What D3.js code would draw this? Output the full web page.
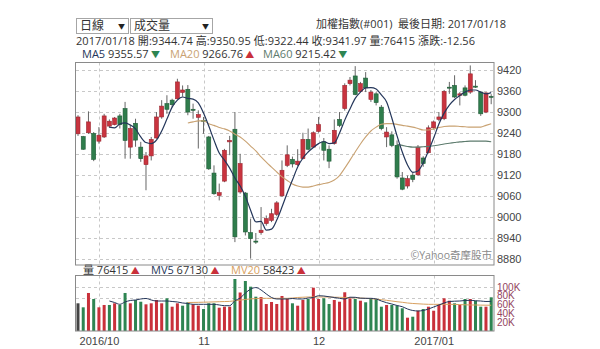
<!DOCTYPE html>
<html>
<head>
<meta charset="utf-8">
<style>
body {
    margin: 0;
    background: #fff;
    font-family: "Open Sans", "Noto Sans CJK TC", sans-serif;
}
svg text {
    font-size: 11px;
    fill: #333;
}
.grid line {
    stroke: #c8c8c8;
    stroke-dasharray: 3,3;
}
.frame {
    fill: none;
    stroke: #8a8a8a;
}
.axis text {
    font-size: 11px;
    fill: #444;
}
</style>
</head>
<body>
<script src="https://d3js.org/d3.v7.min.js"></script>
<script>

// trading days shown (2016/09/23 .. 2017/01/18)
const dates = [
    '2016/09/23','2016/09/26','2016/09/29','2016/09/30',
    '2016/10/03','2016/10/04','2016/10/05','2016/10/06','2016/10/07',
    '2016/10/11','2016/10/12','2016/10/13','2016/10/14',
    '2016/10/17','2016/10/18','2016/10/19','2016/10/20','2016/10/21',
    '2016/10/24','2016/10/25','2016/10/26','2016/10/27','2016/10/28','2016/10/31',
    '2016/11/01','2016/11/02','2016/11/03','2016/11/04',
    '2016/11/07','2016/11/08','2016/11/09','2016/11/10','2016/11/11',
    '2016/11/14','2016/11/15','2016/11/16','2016/11/17','2016/11/18',
    '2016/11/21','2016/11/22','2016/11/23','2016/11/24','2016/11/25',
    '2016/11/28','2016/11/29','2016/11/30',
    '2016/12/01','2016/12/02',
    '2016/12/05','2016/12/06','2016/12/07','2016/12/08','2016/12/09',
    '2016/12/12','2016/12/13','2016/12/14','2016/12/15','2016/12/16',
    '2016/12/19','2016/12/20','2016/12/21','2016/12/22','2016/12/23',
    '2016/12/26','2016/12/27','2016/12/28','2016/12/29','2016/12/30',
    '2017/01/03','2017/01/04','2017/01/05','2017/01/06',
    '2017/01/09','2017/01/10','2017/01/11','2017/01/12','2017/01/13',
    '2017/01/16','2017/01/17','2017/01/18'
];

const opens = [
    9238, 9230, 9241, 9239, 9217, 9229, 9260, 9264, 9289, 9310,
    9200, 9268, 9200, 9150, 9175, 9226, 9286, 9324, 9334, 9338,
    9356, 9365, 9308, 9285, 9276, 9229, 9126, 9062, 9103, 9215,
    9251, 9072, 9069, 8956, 8932, 8956, 8982, 8991, 9008, 9061,
    9148, 9165, 9150, 9167, 9222, 9200, 9245, 9215, 9194, 9210,
    9279, 9310, 9381, 9403, 9359, 9397, 9336, 9352, 9314, 9229,
    9235, 9205, 9112, 9089, 9120, 9121, 9169, 9184, 9255, 9279,
    9281, 9371, 9376, 9348, 9369, 9357, 9374, 9357, 9300, 9344.74
];
const highs = [
    9291, 9232, 9302, 9243, 9257, 9295, 9279, 9286, 9295, 9329,
    9264, 9281, 9215, 9186, 9229, 9300, 9334, 9348, 9338, 9395,
    9376, 9377, 9324, 9305, 9286, 9232, 9148, 9096, 9195, 9232,
    9300, 9181, 9072, 8996, 8955, 9029, 9005, 9024, 9046, 9162,
    9205, 9173, 9194, 9241, 9253, 9245, 9286, 9226, 9205, 9279,
    9300, 9382, 9400, 9431, 9386, 9414, 9363, 9357, 9320, 9257,
    9245, 9219, 9129, 9119, 9126, 9206, 9174, 9262, 9276, 9300,
    9363, 9386, 9405, 9357, 9376, 9433, 9391, 9359, 9357, 9350.95
];
const lows = [
    9232, 9192, 9238, 9160, 9210, 9226, 9255, 9262, 9253, 9167,
    9167, 9201, 9158, 9077, 9162, 9224, 9281, 9295, 9314, 9336,
    9344, 9291, 9281, 9196, 9238, 9135, 9064, 9048, 9100, 9177,
    8929, 9067, 8948, 8882, 8924, 8950, 8976, 8986, 9003, 9058,
    9143, 9142, 9146, 9165, 9191, 9198, 9241, 9162, 9140, 9207,
    9257, 9304, 9376, 9348, 9357, 9357, 9329, 9319, 9248, 9200,
    9200, 9110, 9077, 9082, 9100, 9118, 9144, 9182, 9250, 9274,
    9277, 9352, 9340, 9319, 9345, 9352, 9369, 9289, 9297, 9322.44
];
const closes = [
    9286, 9194, 9272, 9165, 9234, 9289, 9274, 9283, 9264, 9219,
    9253, 9220, 9167, 9175, 9222, 9286, 9317, 9308, 9321, 9386,
    9363, 9300, 9305, 9293, 9274, 9138, 9067, 9070, 9191, 9219,
    8944, 9153, 8958, 8939, 8929, 8963, 8996, 9010, 9041, 9134,
    9178, 9152, 9160, 9222, 9194, 9241, 9264, 9191, 9160, 9248,
    9262, 9376, 9391, 9350, 9381, 9369, 9357, 9327, 9253, 9243,
    9205, 9115, 9080, 9110, 9108, 9200, 9153, 9255, 9272, 9286,
    9359, 9369, 9343, 9352, 9348, 9409, 9371, 9295, 9354.53, 9341.97
];

const ma5 = [
    null, null, null, null, null, null,
    9257, 9255, 9266, 9269, 9263, 9252, 9229, 9213, 9210, 9220,
    9246, 9280, 9314, 9334, 9343, 9339, 9337, 9326, 9297, 9260,
    9220, 9183, 9163, 9140, 9112, 9089, 9060, 9020, 8987, 8988,
    8963, 8966, 8992, 9029, 9069, 9106, 9143, 9169, 9186, 9199,
    9210, 9216, 9210, 9212, 9240, 9277, 9309, 9339, 9357, 9369,
    9370, 9366, 9349, 9329, 9283, 9232, 9186, 9149, 9128, 9132,
    9155, 9189, 9226, 9266, 9297, 9320, 9336, 9347, 9357, 9363,
    9363, 9357, 9352, 9355.57
];
const ma20 = [
    null, null, null, null, null, null, null, null, null, null,
    null, null, null, null, null, null, null, null, null, null, null,
    9269, 9272, 9275, 9275, 9267, 9262, 9256, 9252, 9246, 9237,
    9229, 9217, 9203, 9189, 9172, 9157, 9143, 9129, 9115, 9105,
    9095, 9089, 9086, 9086, 9089, 9093, 9096, 9099, 9106, 9119,
    9140, 9163, 9186, 9209, 9229, 9246, 9257, 9265, 9267, 9267,
    9265, 9262, 9260, 9257, 9253, 9249, 9249, 9252, 9256, 9259,
    9260, 9260, 9259, 9258, 9257, 9257, 9257, 9262, 9266.76
];
const ma60 = [
    null, null, null, null, null, null, null, null, null, null,
    null, null, null, null, null, null, null, null, null, null,
    null, null, null, null, null, null, null, null, null, null,
    null, null, null, null, null, null, null, null, null, null,
    null, null, null, null, null, null, null, null, null, null,
    null, null, null, null, null, null, null, null, null, null, null,
    9208, 9205, 9202, 9200, 9200, 9201, 9202, 9204, 9206, 9209,
    9211, 9213, 9215, 9216, 9217, 9217, 9217, 9217, 9215.42
];
// legend arrows as shown: MA5, MA20, MA60
const maArrows = ['down', 'up', 'down'];

// volume in thousands of lots
const volumes = [
    62.8, 53.7, 86.2, 72.6, 53.7, 59.0, 59.0, 62.8, 59.0, 86.2,
    62.8, 70.3, 66.4, 60.5, 62.8, 70.3, 62.8, 74.1, 55.1, 62.8,
    57.4, 65.1, 60.5, 57.4, 49.9, 62.8, 62.8, 52.8, 55.1, 55.1,
    117.9, 87.3, 113.4, 100.5, 77.8, 77.1, 61.2, 65.8, 61.2, 79.4,
    72.6, 62.8, 57.4, 70.3, 72.6, 98.2, 72.6, 74.1, 61.2, 70.3,
    66.4, 87.8, 74.1, 72.6, 68.7, 65.1, 72.6, 72.6, 55.1, 59.0,
    59.0, 57.4, 51.5, 30.2, 32.4, 46.0, 49.9, 55.1, 46.0, 60.5,
    74.1, 68.7, 62.8, 59.0, 72.6, 72.6, 68.7, 55.1, 55.1, 76.415
];
// bar colour: k = no previous day, r = up, g = down
const volDir = 'kgrgrrgrggrggrrrrgrrggrrgggrrrgrgggrrrrrrgrrgrrggrrrrgrggggrgggrgrgrrrrrgrgrggrg'.split('');

const mv5 = [
    null, null, null, null, null, null,
    68.0, 64.6, 60.5, 65.8, 69.2, 70.3, 72.6, 73.7, 70.3, 68.0,
    68.0, 68.0, 66.9, 65.8, 63.5, 62.4, 60.5, 60.5, 60.5, 60.5,
    60.5, 59.0, 57.4, 57.4, 68.7, 74.5, 86.0, 95.0, 98.5, 93.0,
    84.0, 76.0, 72.6, 72.6, 72.6, 73.7, 72.6, 72.6, 74.8, 76.0,
    80.0, 79.4, 77.6, 76.0, 74.1, 72.6, 76.6, 76.4, 74.4, 74.1,
    74.1, 72.6, 68.0, 64.2, 61.2, 57.8, 55.1, 49.9, 46.5, 45.4,
    46.5, 49.9, 54.4, 59.0, 63.5, 66.9, 67.6, 68.0, 69.2, 69.6,
    68.5, 68.0, 66.9, 67.13
];
const mv20 = [
    null, null, null, null, null, null, null, null, null, null,
    null, null, null, null, null, null, null, null, null, null, null,
    64.6, 64.8, 65.0, 65.3, 65.6, 66.0, 66.4, 66.8, 67.2, 68.5,
    70.0, 71.5, 72.8, 73.5, 74.1, 74.1, 74.1, 74.1, 74.1, 74.1,
    74.8, 76.0, 76.6, 77.1, 77.1, 77.1, 77.1, 77.1, 76.6, 76.4,
    76.0, 75.5, 75.3, 74.8, 74.1, 73.2, 72.1, 71.0, 69.6, 68.0,
    66.4, 65.1, 63.5, 62.4, 61.7, 61.0, 60.5, 60.5, 60.5, 60.5,
    60.5, 60.3, 59.9, 59.4, 59.0, 59.0, 58.7, 58.5, 58.423
];
// legend arrows as shown: 量, MV5, MV20
const volArrows = ['up', 'up', 'up'];

const priceTicks = [8880, 8940, 9000, 9060, 9120, 9180, 9240, 9300, 9360, 9420];
const volTicks = [20, 40, 60, 80, 100];
const volGrid = [75, 100];
const monthStarts = ['2016/10/03', '2016/11/01', '2016/12/01', '2017/01/03'];
const monthLabels = ['2016/10', '11', '12', '2017/01'];

const
    left = 76, right = 494,
    priceTop = 62.5, priceBottom = 265,
    volTop = 275.5, volBottom = 331;

const colors = {
    up: '#c9343f', upEdge: '#9c2630',
    down: '#2f7d4c', downEdge: '#1f5a36',
    flat: '#444',
    ma5: '#24365a', ma20: '#c9a272', ma60: '#5d7b6d',
    mv20: '#d8a060',
    red: '#c9303a', green: '#2e8552'
};

var svg = d3.select('body')
    .append('svg')
    .attr('width', 600)
    .attr('height', 349);

const x = d3.scalePoint().domain(dates).range([78, 491.2]);
const yP = d3.scaleLinear().domain([8880, 9420]).range([259.3, 70]);
const yV = d3.scaleLinear().domain([0, 100]).range([volBottom, 286.9]);

// ---- header ----
function selectBox(x0, w, label) {
    svg.append('rect')
        .attr('x', x0 + 0.5).attr('y', 18.5)
        .attr('width', w).attr('height', 15)
        .attr('fill', '#fff').attr('stroke', '#a6a6a6');
    svg.append('text').attr('x', x0 + 4).attr('y', 30).text(label).style('font-size', '12px');
    svg.append('text').attr('x', x0 + w - 10).attr('y', 29)
        .text('▼').style('font-size', '7px').style('fill', '#222');
}
selectBox(76, 52, '日線');
selectBox(130, 82, '成交量');

svg.append('text').attr('x', 316).attr('y', 28).text('加權指數(#001)');
svg.append('text').attr('x', 398).attr('y', 28).text('最後日期: 2017/01/18');

const last = dates.length - 1;
const infoParts = [
    dates[last],
    '開:' + opens[last].toFixed(2),
    '高:' + highs[last].toFixed(2),
    '低:' + lows[last].toFixed(2),
    '收:' + closes[last].toFixed(2),
    '量:' + Math.round(volumes[last] * 1000),
    '漲跌:' + (closes[last] - closes[last - 1]).toFixed(2)
];
svg.append('text')
    .attr('x', 76).attr('y', 45)
    .attr('textLength', 399).attr('lengthAdjust', 'spacing')
    .text(infoParts.join(' '));

function legend(y, items) {
    const g = svg.append('g');
    items.forEach(it => {
        const t = g.append('text').attr('x', it.x).attr('y', y);
        t.append('tspan').text(it.name).style('fill', it.color);
        t.append('tspan').text(' ' + it.value).style('fill', '#333');
        t.append('tspan').text(' ' + (it.dir == 'up' ? '▲' : '▼'))
            .style('fill', it.dir == 'up' ? colors.red : colors.green)
            .style('font-size', '9px');
    });
}
legend(57.5, [
    {x: 82, name: 'MA5', value: ma5[last].toFixed(2), color: colors.ma5, dir: maArrows[0]},
    {x: 170, name: 'MA20', value: ma20[last].toFixed(2), color: colors.ma20, dir: maArrows[1]},
    {x: 263, name: 'MA60', value: ma60[last].toFixed(2), color: colors.ma60, dir: maArrows[2]}
]);
legend(273.5, [
    {x: 83, name: '量', value: Math.round(volumes[last] * 1000), color: '#333', dir: volArrows[0]},
    {x: 151, name: 'MV5', value: Math.round(mv5[last] * 1000), color: colors.ma5, dir: volArrows[1]},
    {x: 231, name: 'MV20', value: Math.round(mv20[last] * 1000), color: colors.mv20, dir: volArrows[2]}
]);

// ---- grids ----
const grid = svg.append('g').classed('grid', true);
grid.selectAll('.hp')
    .data(priceTicks)
  .enter().append('line')
    .attr('x1', left).attr('x2', right)
    .attr('y1', d => Math.round(yP(d)) + 0.5).attr('y2', d => Math.round(yP(d)) + 0.5);
grid.selectAll('.hv')
    .data(volGrid)
  .enter().append('line')
    .attr('x1', left).attr('x2', right)
    .attr('y1', d => Math.round(yV(d)) + 0.5).attr('y2', d => Math.round(yV(d)) + 0.5);
grid.selectAll('.vp')
    .data(monthStarts)
  .enter().append('line')
    .attr('x1', d => Math.round(x(d)) + 0.5).attr('x2', d => Math.round(x(d)) + 0.5)
    .attr('y1', priceTop).attr('y2', priceBottom);
grid.selectAll('.vv')
    .data(monthStarts)
  .enter().append('line')
    .attr('x1', d => Math.round(x(d)) + 0.5).attr('x2', d => Math.round(x(d)) + 0.5)
    .attr('y1', volTop).attr('y2', volBottom);

svg.append('text')
    .attr('x', 492).attr('y', 259)
    .attr('text-anchor', 'end')
    .style('fill', '#8a8a8a').style('font-size', '10.5px')
    .text('©Yahoo奇摩股市');

// ---- candles ----
const candles = svg.append('g')
    .selectAll('g')
    .data(dates.map((d, i) => ({d: d, o: opens[i], h: highs[i], l: lows[i], c: closes[i]})))
  .enter().append('g');

candles.append('line')
    .attr('x1', d => x(d.d)).attr('x2', d => x(d.d))
    .attr('y1', d => yP(d.h)).attr('y2', d => yP(d.l))
    .attr('stroke', '#666');

candles.append('rect')
    .attr('x', d => x(d.d) - 2)
    .attr('width', 4)
    .attr('y', d => yP(Math.max(d.o, d.c)))
    .attr('height', d => Math.max(1, Math.abs(yP(d.o) - yP(d.c))))
    .attr('fill', d => d.c >= d.o ? colors.up : colors.down)
    .attr('stroke', d => d.c >= d.o ? colors.upEdge : colors.downEdge)
    .attr('stroke-width', 0.6);

// ---- moving averages ----
function maLine(values, yScale, color, width) {
    const line = d3.line()
        .defined(d => d != null)
        .x((d, i) => x(dates[i]))
        .y(d => yScale(d))
        .curve(d3.curveMonotoneX);
    svg.append('path')
        .datum(values)
        .attr('d', line)
        .attr('fill', 'none')
        .attr('stroke', color)
        .attr('stroke-width', width);
}
maLine(ma60, yP, colors.ma60, 1.1);
maLine(ma20, yP, colors.ma20, 1.1);
maLine(ma5, yP, colors.ma5, 1.2);

// ---- volume ----
svg.append('g')
    .selectAll('rect')
    .data(volumes)
  .enter().append('rect')
    .attr('x', (d, i) => x(dates[i]) - 1.5)
    .attr('width', 3)
    .attr('y', d => yV(d))
    .attr('height', d => volBottom - yV(d))
    .attr('fill', (d, i) => volDir[i] == 'r' ? colors.red : volDir[i] == 'g' ? colors.green : colors.flat);

maLine(mv20, yV, colors.mv20, 1);
maLine(mv5, yV, colors.ma5, 1);

// ---- frames ----
svg.append('rect').classed('frame', true)
    .attr('x', left - 0.5).attr('y', priceTop)
    .attr('width', right - left + 0.5).attr('height', priceBottom - priceTop);
svg.append('rect').classed('frame', true)
    .attr('x', left - 0.5).attr('y', volTop)
    .attr('width', right - left + 0.5).attr('height', volBottom - volTop);

// ---- axes ----
const yAxis = svg.append('g').classed('axis', true)
    .attr('transform', 'translate(' + right + ',0)')
    .call(d3.axisRight(yP).tickValues(priceTicks).tickFormat(d3.format('d')).tickSize(0).tickPadding(3));
yAxis.select('.domain').remove();

// labels are packed tight, as in the original
const vAxis = svg.append('g').classed('axis', true)
    .attr('transform', 'translate(' + right + ',0)')
    .call(d3.axisRight(yV).tickValues(volTicks).tickFormat(d => d + 'K').tickSize(0).tickPadding(3));
vAxis.select('.domain').remove();
vAxis.selectAll('text').style('fill', '#93445e').style('font-size', '10px');

const xAxis = svg.append('g').classed('axis', true)
    .attr('transform', 'translate(0,' + (volBottom + 4) + ')')
    .call(d3.axisBottom(x).tickValues(monthStarts).tickFormat((d, i) => monthLabels[i]).tickSize(0).tickPadding(2));
xAxis.select('.domain').remove();

</script>
</body>
</html>
